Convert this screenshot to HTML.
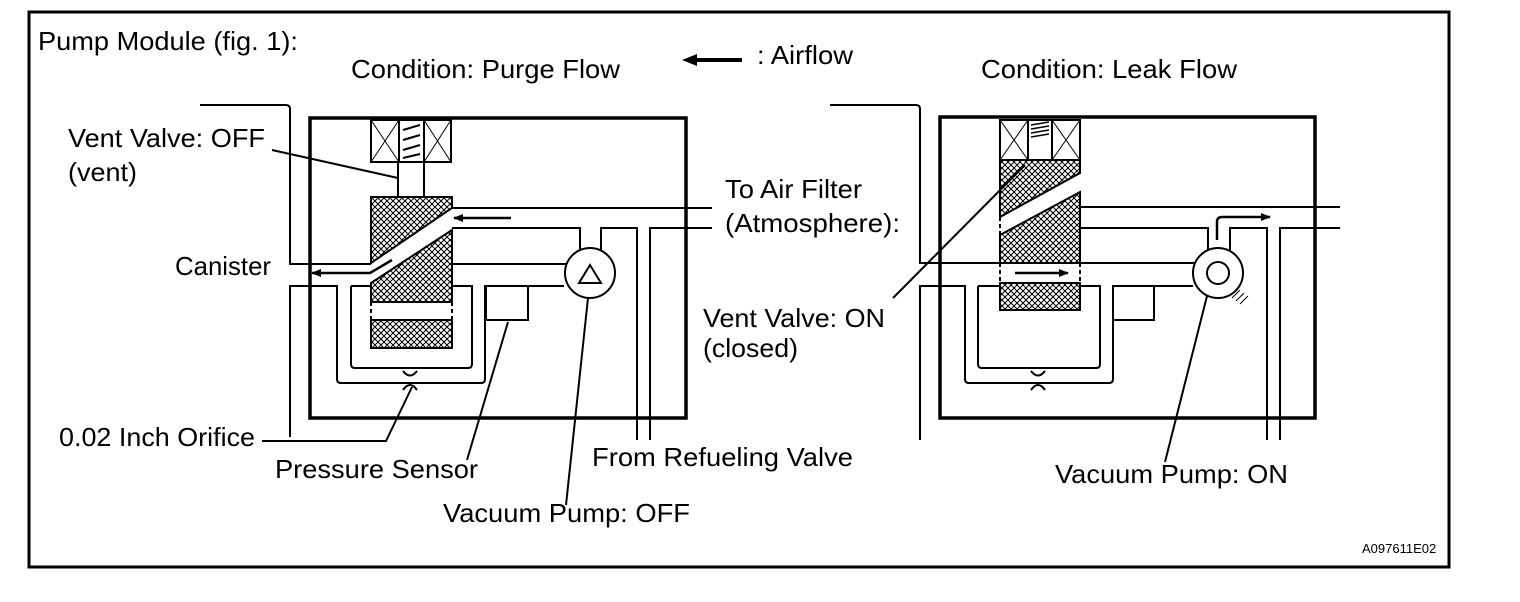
<!DOCTYPE html>
<html><head><meta charset="utf-8"><style>
html,body{margin:0;padding:0;background:#fff;}
svg{display:block;}
text{font-family:"Liberation Sans",sans-serif;font-size:26px;fill:#000;}
</style></head><body>
<svg width="1520" height="602" viewBox="0 0 1520 602" xmlns="http://www.w3.org/2000/svg">
<defs>
<pattern id="h" width="6" height="6" patternUnits="userSpaceOnUse">
<path d="M0,0L6,6M6,0L0,6" stroke="#000" stroke-width="1"/>
</pattern>
<marker id="ar" markerWidth="10" markerHeight="8" refX="9" refY="4" orient="auto" markerUnits="userSpaceOnUse">
<path d="M0,0L10,4L0,8z" fill="#000"/>
</marker>
</defs>
<rect x="29" y="12" width="1420" height="555" fill="none" stroke="#000" stroke-width="3"/>

<g lengthAdjust="spacingAndGlyphs">
<text x="38" y="50" textLength="260" lengthAdjust="spacingAndGlyphs">Pump Module (fig. 1):</text>
<text x="351" y="78" textLength="269" lengthAdjust="spacingAndGlyphs">Condition: Purge Flow</text>
<text x="757" y="64" textLength="96" lengthAdjust="spacingAndGlyphs">: Airflow</text>
<text x="981" y="78" textLength="256" lengthAdjust="spacingAndGlyphs">Condition: Leak Flow</text>
<text x="68" y="147" textLength="197" lengthAdjust="spacingAndGlyphs">Vent Valve: OFF</text>
<text x="68" y="181" textLength="69" lengthAdjust="spacingAndGlyphs">(vent)</text>
<text x="725" y="198" textLength="137" lengthAdjust="spacingAndGlyphs">To Air Filter</text>
<text x="725" y="232" textLength="175" lengthAdjust="spacingAndGlyphs">(Atmosphere):</text>
<text x="175" y="275" textLength="96" lengthAdjust="spacingAndGlyphs">Canister</text>
<text x="703" y="327" textLength="182" lengthAdjust="spacingAndGlyphs">Vent Valve: ON</text>
<text x="703" y="357" textLength="95" lengthAdjust="spacingAndGlyphs">(closed)</text>
<text x="59" y="446" textLength="196" lengthAdjust="spacingAndGlyphs">0.02 Inch Orifice</text>
<text x="275" y="478" textLength="203" lengthAdjust="spacingAndGlyphs">Pressure Sensor</text>
<text x="592" y="466" textLength="261" lengthAdjust="spacingAndGlyphs">From Refueling Valve</text>
<text x="443" y="522" textLength="247" lengthAdjust="spacingAndGlyphs">Vacuum Pump: OFF</text>
<text x="1055" y="483" textLength="233" lengthAdjust="spacingAndGlyphs">Vacuum Pump: ON</text>
</g>
<text x="1362" y="553" style="font-size:13px">A097611E02</text>
<line x1="742" y1="60" x2="692" y2="60" stroke="#000" stroke-width="4"/>
<path d="M682,60L697,54L697,66z" fill="#000"/>

<!-- LEFT DIAGRAM -->
<g fill="none" stroke="#000" stroke-width="2">
<rect x="310" y="118" width="376" height="300" stroke-width="3.5"/>
<path d="M200,105H286Q290,105 290,109V264H371"/>
<path d="M290,437V286H337V379Q337,383 341,383H481Q485,383 485,379V286H564"/>
<path d="M351,286V364Q351,368 355,368H468Q472,368 472,364V286H452"/>
<path d="M351,286H371"/>
<rect x="486" y="286" width="42" height="34"/>
<path d="M452,264H566"/>
<path d="M452,208H712"/>
<path d="M452,228H580V250"/>
<path d="M601,250V228H637V440"/>
<path d="M650,440V228H712"/>
<circle cx="590" cy="273" r="25" fill="#fff"/>
<path d="M579,283L590,265L601,283Z"/>
<rect x="371" y="120" width="80" height="42"/>
<line x1="399" y1="120" x2="399" y2="162"/>
<line x1="424" y1="120" x2="424" y2="162"/>
<rect x="398" y="162" width="26" height="35"/>
</g>
<g stroke="#000" stroke-width="1">
<path d="M371,120L399,162M399,120L371,162M424,120L451,162M451,120L424,162"/>
<path d="M403,130L420,125M403,140L420,135M403,150L420,145M403,158L420,154" stroke-width="2"/>
</g>
<path d="M371,197H452V208L371,263Z" fill="url(#h)" stroke="#000" stroke-width="2"/>
<path d="M371,283L452,230V302H371Z" fill="url(#h)" stroke="#000" stroke-width="2"/>
<rect x="371" y="320" width="81" height="28" fill="url(#h)" stroke="#000" stroke-width="2"/>
<path d="M371,302V320M452,302V320" stroke="#000" stroke-width="2" stroke-dasharray="4,3"/>
<path d="M403,371Q410,380 417,371M403,390Q410,380 417,390" fill="none" stroke="#000" stroke-width="2"/>
<line x1="511" y1="218" x2="454" y2="218" stroke="#000" stroke-width="2.5" marker-end="url(#ar)"/>
<path d="M392,260L370,273H312" fill="none" stroke="#000" stroke-width="2.5" marker-end="url(#ar)"/>
<g fill="none" stroke="#000" stroke-width="2">
<path d="M272,150L398,178"/>
<path d="M262,441H386L412,387"/>
<path d="M508,322L467,460"/>
<path d="M588,298L566,505"/>
</g>

<!-- RIGHT DIAGRAM -->
<g fill="none" stroke="#000" stroke-width="2">
<rect x="940" y="117" width="375" height="301" stroke-width="3.5"/>
<path d="M830,105H916Q920,105 920,109V263H1000"/>
<path d="M920,440V286H965V379Q965,383 969,383H1109Q1113,383 1113,379V286H1193"/>
<path d="M978,286V364Q978,368 982,368H1096Q1100,368 1100,364V286H1080"/>
<path d="M978,286H1000"/>
<rect x="1113" y="286" width="41" height="34"/>
<path d="M1080,263H1195"/>
<path d="M1080,207H1340"/>
<path d="M1080,228H1208V250"/>
<path d="M1230,250V228H1267V440"/>
<path d="M1280,440V228H1340"/>
<circle cx="1218" cy="273" r="25" fill="#fff"/>
<circle cx="1218" cy="273" r="11"/>
<rect x="1000" y="120" width="80" height="40"/>
<line x1="1028" y1="120" x2="1028" y2="160"/>
<line x1="1052" y1="120" x2="1052" y2="160"/>
</g>
<g stroke="#000" stroke-width="1">
<path d="M1000,120L1028,160M1028,120L1000,160M1052,120L1080,160M1080,120L1052,160"/>
<path d="M1031,125L1049,122M1031,129L1049,126M1031,133L1049,130M1031,137L1049,134" stroke-width="1.5"/>
<path d="M1232,298L1240,290M1236,301L1244,293M1240,304L1248,296"/>
</g>
<path d="M1000,160H1080V173L1000,217Z" fill="url(#h)" stroke="#000" stroke-width="2"/>
<path d="M1000,235L1080,192V263H1000Z" fill="url(#h)" stroke="#000" stroke-width="2"/>
<rect x="1000" y="283" width="80" height="27" fill="url(#h)" stroke="#000" stroke-width="2"/>
<path d="M1000,263V283M1080,263V283M1080,217V192M1000,217V235" stroke="#000" stroke-width="2" stroke-dasharray="4,3"/>
<path d="M1031,371Q1038,380 1045,371M1031,390Q1038,380 1045,390" fill="none" stroke="#000" stroke-width="2"/>
<line x1="1015" y1="273" x2="1068" y2="273" stroke="#000" stroke-width="2.5" marker-end="url(#ar)"/>
<path d="M1217,240V222Q1217,217 1222,217H1270" fill="none" stroke="#000" stroke-width="2.5" marker-end="url(#ar)"/>
<g fill="none" stroke="#000" stroke-width="2">
<path d="M893,298L1025,165"/>
<path d="M1207,296L1165,462"/>
</g>
</svg>
</body></html>
